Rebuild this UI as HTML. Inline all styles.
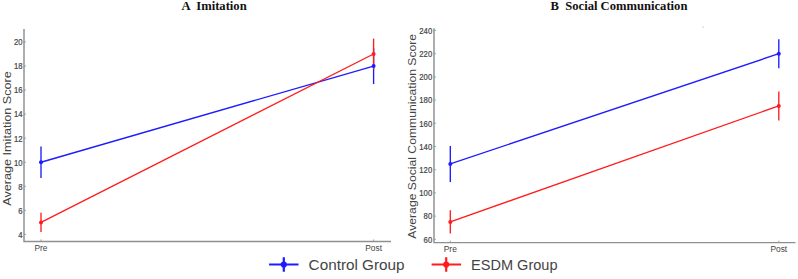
<!DOCTYPE html><html><head><meta charset="utf-8"><style>html,body{margin:0;padding:0;background:#fff;}svg{display:block}text.tk{stroke:#444444;stroke-width:0.2}text{font-family:"Liberation Sans",sans-serif;fill:#444444}.t{font-family:"Liberation Serif",serif;font-weight:bold;fill:#111}</style></head><body>
<svg width="798" height="279" viewBox="0 0 798 279">
<rect width="798" height="279" fill="#fff"/>
<text class="t" x="181.6" y="10.2" font-size="12.6" style="white-space:pre">A  Imitation</text>
<text class="t" x="550.6" y="10.2" font-size="12.6" style="white-space:pre">B  Social Communication</text>
<path d="M24.0 29.0V241.4H391.0" fill="none" stroke="#8f8f8f" stroke-width="1.45"/>
<path d="M24.0 42.00h2" stroke="#8f8f8f" stroke-width="0.8"/>
<text transform="translate(22.5 45.30) scale(0.93 1)" font-size="8.3" text-anchor="end" class="tk">20</text>
<path d="M24.0 66.05h2" stroke="#8f8f8f" stroke-width="0.8"/>
<text transform="translate(22.5 69.35) scale(0.93 1)" font-size="8.3" text-anchor="end" class="tk">18</text>
<path d="M24.0 90.10h2" stroke="#8f8f8f" stroke-width="0.8"/>
<text transform="translate(22.5 93.40) scale(0.93 1)" font-size="8.3" text-anchor="end" class="tk">16</text>
<path d="M24.0 114.15h2" stroke="#8f8f8f" stroke-width="0.8"/>
<text transform="translate(22.5 117.45) scale(0.93 1)" font-size="8.3" text-anchor="end" class="tk">14</text>
<path d="M24.0 138.20h2" stroke="#8f8f8f" stroke-width="0.8"/>
<text transform="translate(22.5 141.50) scale(0.93 1)" font-size="8.3" text-anchor="end" class="tk">12</text>
<path d="M24.0 162.25h2" stroke="#8f8f8f" stroke-width="0.8"/>
<text transform="translate(22.5 165.55) scale(0.93 1)" font-size="8.3" text-anchor="end" class="tk">10</text>
<path d="M24.0 186.30h2" stroke="#8f8f8f" stroke-width="0.8"/>
<text transform="translate(22.5 189.60) scale(0.93 1)" font-size="8.3" text-anchor="end" class="tk">8</text>
<path d="M24.0 210.35h2" stroke="#8f8f8f" stroke-width="0.8"/>
<text transform="translate(22.5 213.65) scale(0.93 1)" font-size="8.3" text-anchor="end" class="tk">6</text>
<path d="M24.0 234.40h2" stroke="#8f8f8f" stroke-width="0.8"/>
<text transform="translate(22.5 237.70) scale(0.93 1)" font-size="8.3" text-anchor="end" class="tk">4</text>
<path d="M41.0 241.4v-2" stroke="#8f8f8f" stroke-width="0.8"/>
<text x="41.0" y="250.70" font-size="8.4" text-anchor="middle">Pre</text>
<path d="M373.6 241.4v-2" stroke="#8f8f8f" stroke-width="0.8"/>
<text x="373.6" y="250.70" font-size="8.4" text-anchor="middle">Post</text>
<text transform="translate(10.6 138.5) rotate(-90)" font-size="10.2" text-anchor="middle" textLength="134.3" lengthAdjust="spacingAndGlyphs">Average Imitation Score</text>
<path d="M41.0 146.62V177.88" stroke="#1c1cff" stroke-width="1.35"/>
<path d="M373.6 48.01V84.09" stroke="#1c1cff" stroke-width="1.35"/>
<path d="M41.0 212.75V232.00" stroke="#ff1c1c" stroke-width="1.35"/>
<path d="M373.6 38.63V69.42" stroke="#ff1c1c" stroke-width="1.35"/>
<path d="M41.0 162.25L373.6 66.05" stroke="#1c1cff" stroke-width="1.35" fill="none"/>
<circle cx="41.0" cy="162.25" r="2.0" fill="#1c1cff"/>
<circle cx="373.6" cy="66.05" r="2.0" fill="#1c1cff"/>
<path d="M41.0 222.38L373.6 54.02" stroke="#ff1c1c" stroke-width="1.35" fill="none"/>
<circle cx="41.0" cy="222.38" r="2.0" fill="#ff1c1c"/>
<circle cx="373.6" cy="54.02" r="2.0" fill="#ff1c1c"/>
<path d="M434.0 28.3V242.6H795.5" fill="none" stroke="#8f8f8f" stroke-width="1.45"/>
<path d="M434.0 30.50h2" stroke="#8f8f8f" stroke-width="0.8"/>
<text transform="translate(432.2 33.80) scale(0.93 1)" font-size="8.3" text-anchor="end" class="tk">240</text>
<path d="M434.0 53.70h2" stroke="#8f8f8f" stroke-width="0.8"/>
<text transform="translate(432.2 57.00) scale(0.93 1)" font-size="8.3" text-anchor="end" class="tk">220</text>
<path d="M434.0 76.90h2" stroke="#8f8f8f" stroke-width="0.8"/>
<text transform="translate(432.2 80.20) scale(0.93 1)" font-size="8.3" text-anchor="end" class="tk">200</text>
<path d="M434.0 100.10h2" stroke="#8f8f8f" stroke-width="0.8"/>
<text transform="translate(432.2 103.40) scale(0.93 1)" font-size="8.3" text-anchor="end" class="tk">180</text>
<path d="M434.0 123.30h2" stroke="#8f8f8f" stroke-width="0.8"/>
<text transform="translate(432.2 126.60) scale(0.93 1)" font-size="8.3" text-anchor="end" class="tk">160</text>
<path d="M434.0 146.50h2" stroke="#8f8f8f" stroke-width="0.8"/>
<text transform="translate(432.2 149.80) scale(0.93 1)" font-size="8.3" text-anchor="end" class="tk">140</text>
<path d="M434.0 169.70h2" stroke="#8f8f8f" stroke-width="0.8"/>
<text transform="translate(432.2 173.00) scale(0.93 1)" font-size="8.3" text-anchor="end" class="tk">120</text>
<path d="M434.0 192.90h2" stroke="#8f8f8f" stroke-width="0.8"/>
<text transform="translate(432.2 196.20) scale(0.93 1)" font-size="8.3" text-anchor="end" class="tk">100</text>
<path d="M434.0 216.10h2" stroke="#8f8f8f" stroke-width="0.8"/>
<text transform="translate(432.2 219.40) scale(0.93 1)" font-size="8.3" text-anchor="end" class="tk">80</text>
<path d="M434.0 239.30h2" stroke="#8f8f8f" stroke-width="0.8"/>
<text transform="translate(432.2 242.60) scale(0.93 1)" font-size="8.3" text-anchor="end" class="tk">60</text>
<path d="M450.3 242.6v-2" stroke="#8f8f8f" stroke-width="0.8"/>
<text x="450.3" y="251.90" font-size="8.4" text-anchor="middle">Pre</text>
<path d="M778.8 242.6v-2" stroke="#8f8f8f" stroke-width="0.8"/>
<text x="778.8" y="251.90" font-size="8.4" text-anchor="middle">Post</text>
<text transform="translate(415.5 136.3) rotate(-90)" font-size="10.2" text-anchor="middle" textLength="204.8" lengthAdjust="spacingAndGlyphs">Average Social Communication Score</text>
<path d="M450.3 145.92V181.88" stroke="#1c1cff" stroke-width="1.35"/>
<path d="M778.8 39.20V68.20" stroke="#1c1cff" stroke-width="1.35"/>
<path d="M450.3 210.30V233.50" stroke="#ff1c1c" stroke-width="1.35"/>
<path d="M778.8 91.40V120.40" stroke="#ff1c1c" stroke-width="1.35"/>
<path d="M450.3 163.90L778.8 53.70" stroke="#1c1cff" stroke-width="1.35" fill="none"/>
<circle cx="450.3" cy="163.90" r="2.0" fill="#1c1cff"/>
<circle cx="778.8" cy="53.70" r="2.0" fill="#1c1cff"/>
<path d="M450.3 221.90L778.8 105.90" stroke="#ff1c1c" stroke-width="1.35" fill="none"/>
<circle cx="450.3" cy="221.90" r="2.0" fill="#ff1c1c"/>
<circle cx="778.8" cy="105.90" r="2.0" fill="#ff1c1c"/>
<path d="M269.1 264.5H298.5M283.8 257.2V271.7" stroke="#1c1cff" stroke-width="2.2" fill="none"/>
<circle cx="283.8" cy="264.5" r="3.1" fill="#1c1cff"/>
<text x="308.6" y="269.6" font-size="15" textLength="96.0" lengthAdjust="spacingAndGlyphs" class="lg">Control Group</text>
<path d="M431.6 264.5H461.1M446.2 257.2V271.7" stroke="#ff1c1c" stroke-width="2.2" fill="none"/>
<circle cx="446.2" cy="264.5" r="3.1" fill="#ff1c1c"/>
<text x="471.0" y="269.6" font-size="15" textLength="86.5" lengthAdjust="spacingAndGlyphs" class="lg">ESDM Group</text>
<circle cx="703" cy="27" r="0.6" fill="#999"/>
</svg></body></html>
